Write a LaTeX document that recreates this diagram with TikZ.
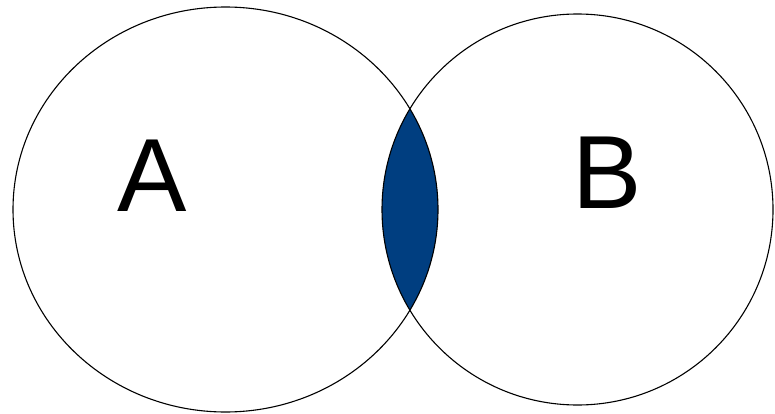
\documentclass[tikz,border=0pt]{standalone}
\usepackage{fontspec}
\setmainfont{Liberation Sans}
\definecolor{lensblue}{RGB}{0,62,128}
\tikzset{
  setline/.style={draw=black, line width=1.1pt},
  setlabel/.style={anchor=base, inner sep=0pt, font=\fontsize{104}{104}\selectfont}
}
\begin{document}
\begin{tikzpicture}[x=1pt,y=-1pt]
\useasboundingbox (0,0) rectangle (775,414);
\fill[white] (0,0) rectangle (775,414);
\begin{scope}
  \clip (225.5,209.5) ellipse [x radius=212.5pt, y radius=202.5pt];
  \fill[lensblue] (577.5,209.5) circle [radius=195.5pt];
\end{scope}
\draw[setline] (225.5,209.5) ellipse [x radius=212.5pt, y radius=202.5pt];
\draw[setline] (577.5,209.5) circle [radius=195.5pt];
\node[setlabel] (A) at (152.5,211) {A};
\node[setlabel] (B) at (607,208) {B};
\end{tikzpicture}
\end{document}
